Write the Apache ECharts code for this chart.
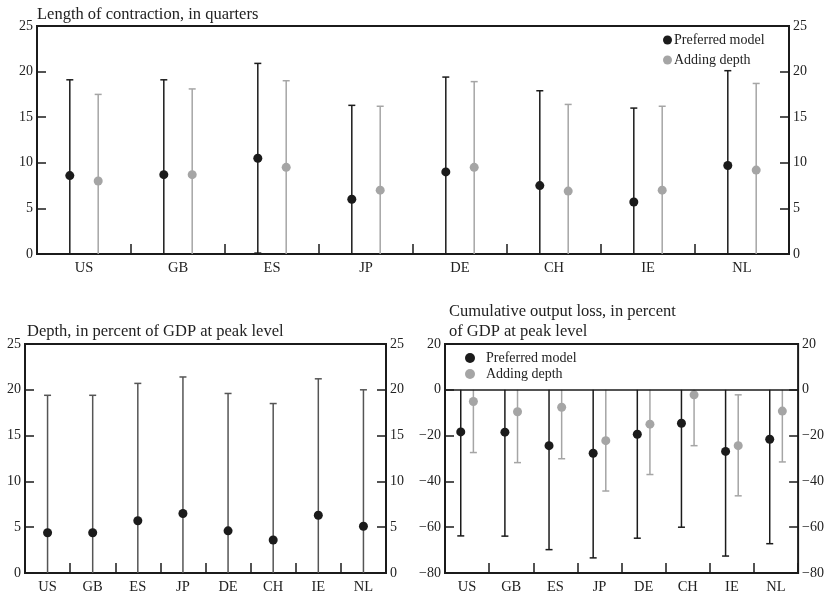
<!DOCTYPE html>
<html><head><meta charset="utf-8">
<script src="https://cdn.jsdelivr.net/npm/echarts@6/dist/echarts.min.js"></script>
<style>html,body{margin:0;padding:0;background:#fff}#c{width:827px;height:598px}</style>
</head><body><div id="c"></div>
<script>
const countries = ['US','GB','ES','JP','DE','CH','IE','NL'];
// Length of contraction (quarters)
const lenPrefVal  = [8.6, 8.7, 10.5, 6.0, 9.0, 7.5, 5.7, 9.7];
const lenPrefLow  = [0, 0, 0.1, 0, 0, 0, 0, 0];
const lenPrefHigh = [19.1, 19.1, 20.9, 16.3, 19.4, 17.9, 16.0, 20.1];
const lenDepVal   = [8.0, 8.7, 9.5, 7.0, 9.5, 6.9, 7.0, 9.2];
const lenDepLow   = [0, 0, 0, 0, 0, 0, 0, 0];
const lenDepHigh  = [17.5, 18.1, 19.0, 16.2, 18.9, 16.4, 16.2, 18.7];
// Depth (% of GDP at peak)
const depthVal  = [4.4, 4.4, 5.7, 6.5, 4.6, 3.6, 6.3, 5.1];
const depthLow  = [0, 0, 0, 0, 0, 0, 0, 0];
const depthHigh = [19.4, 19.4, 20.7, 21.4, 19.6, 18.5, 21.2, 20.0];
// Cumulative output loss
const lossPrefVal  = [-18.4, -18.5, -24.4, -27.7, -19.4, -14.6, -26.9, -21.6];
const lossPrefLow  = [-63.8, -63.9, -69.8, -73.4, -64.8, -60.0, -72.6, -67.2];
const lossPrefHigh = [0, 0, 0, 0, 0, 0, 0, 0];
const lossDepVal   = [-5.1, -9.6, -7.6, -22.2, -15.0, -2.2, -24.4, -9.3];
const lossDepLow   = [-27.4, -31.8, -30.1, -44.2, -37.0, -24.4, -46.3, -31.5];
const lossDepHigh  = [0, 0, 0, 0, 0, 0, -2.2, 0];

const lenTicks = {min: 0, max: 25, interval: 5};
const lossTicks = {min: -80, max: 20, interval: 20};

const BLACK = '#1b1b1b', GRAY = '#a5a5a5', DGRAY = '#555555';
const FONT = '"Liberation Serif", "DejaVu Serif", serif';

function build(v, lo, hi) { return v.map((x, i) => [i, x, lo[i], hi[i]]); }

function errSeries(name, data, gi, dotColor, lineColor, offFrac, z) {
  return {
    name: name, type: 'custom', xAxisIndex: gi, yAxisIndex: gi * 2,
    itemStyle: {color: dotColor}, z: z || 3,
    data: data,
    renderItem: function (params, api) {
      const i = api.value(0);
      const band = api.size([1, 0])[0];
      const dx = band * offFrac;
      const p = api.coord([i, api.value(1)]);
      const pl = api.coord([i, api.value(2)]);
      const ph = api.coord([i, api.value(3)]);
      const x = p[0] + dx;
      const cap = 3.5;
      const ch = [
        {type: 'line', shape: {x1: x, y1: pl[1], x2: x, y2: ph[1]}, style: {stroke: lineColor, lineWidth: 1.5}}
      ];
      if (api.value(2) !== 0) ch.push({type: 'line', shape: {x1: x - cap, y1: pl[1], x2: x + cap, y2: pl[1]}, style: {stroke: lineColor, lineWidth: 1.5}});
      if (api.value(3) !== 0) ch.push({type: 'line', shape: {x1: x - cap, y1: ph[1], x2: x + cap, y2: ph[1]}, style: {stroke: lineColor, lineWidth: 1.5}});
      ch.push({type: 'circle', shape: {cx: x, cy: p[1], r: 4.5}, style: {fill: dotColor}});
      return {type: 'group', children: ch};
    }
  };
}

function xAx(gi) {
  return {
    type: 'category', gridIndex: gi, data: countries, boundaryGap: true,
    axisLine: {show: false, onZero: false},
    axisTick: {show: true, inside: true, length: 10, lineStyle: {color: BLACK, width: 1.5}},
    axisLabel: {color: '#222', fontFamily: FONT, fontSize: 14.5, margin: 7},
    splitLine: {show: false}
  };
}
function yAx(gi, pos, t, fmt) {
  return {
    type: 'value', gridIndex: gi, position: pos, min: t.min, max: t.max, interval: t.interval,
    axisLine: {show: false, onZero: false},
    axisTick: {show: true, inside: true, length: 9, lineStyle: {color: BLACK, width: 1.5}},
    axisLabel: {color: '#222', fontFamily: FONT, fontSize: 14, margin: 4, formatter: fmt},
    splitLine: {show: false}
  };
}
const minusFmt = v => String(v).replace('-', '\u2212');

const gridBase = {show: true, borderColor: BLACK, borderWidth: 2, backgroundColor: 'transparent'};
const titleStyle = {fontFamily: FONT, fontWeight: 'normal', fontSize: 16.5, color: '#222'};

const chart = echarts.init(document.getElementById('c'), null, {renderer: 'canvas'});
chart.setOption({
  animation: false,
  backgroundColor: '#fff',
  textStyle: {fontFamily: FONT},
  title: [
    {text: 'Length of contraction, in quarters', left: 32, top: 1, textStyle: titleStyle},
    {text: 'Depth, in percent of GDP at peak level', left: 22, top: 318, textStyle: titleStyle},
    {text: 'Cumulative output loss, in percent\nof GDP at peak level', left: 444, top: 297, textStyle: Object.assign({lineHeight: 20}, titleStyle)}
  ],
  legend: [
    {data: ['Preferred model', 'Adding depth'], orient: 'vertical', left: 658, top: 28, icon: 'circle',
     itemWidth: 9, itemHeight: 9, itemGap: 6, textStyle: {fontFamily: FONT, fontSize: 14, color: '#222', padding: [0, 0, 0, -3]},
     selectedMode: false},
    {data: ['Preferred model ', 'Adding depth '], orient: 'vertical', left: 460, top: 346, icon: 'circle',
     itemWidth: 10, itemHeight: 10, itemGap: 2, textStyle: {fontFamily: FONT, fontSize: 14, color: '#222', padding: [0, 0, 0, 6]},
     selectedMode: false}
  ],
  grid: [
    Object.assign({left: 37, top: 26, width: 752, height: 228}, gridBase),
    Object.assign({left: 25, top: 344, width: 361, height: 229}, gridBase),
    Object.assign({left: 445, top: 344, width: 354, height: 229}, gridBase)
  ],
  xAxis: [xAx(0), xAx(1), xAx(2)],
  yAxis: [
    yAx(0, 'left', lenTicks), yAx(0, 'right', lenTicks),
    yAx(1, 'left', lenTicks), yAx(1, 'right', lenTicks),
    yAx(2, 'left', lossTicks, minusFmt), yAx(2, 'right', lossTicks, minusFmt)
  ],
  series: [
    errSeries('Preferred model', build(lenPrefVal, lenPrefLow, lenPrefHigh), 0, BLACK, BLACK, -0.151),
    errSeries('Adding depth', build(lenDepVal, lenDepLow, lenDepHigh), 0, GRAY, GRAY, 0.151),
    errSeries('Depth', build(depthVal, depthLow, depthHigh), 1, BLACK, DGRAY, 0),
    Object.assign(errSeries('Preferred model ', build(lossPrefVal, lossPrefLow, lossPrefHigh), 2, BLACK, BLACK, -0.143, 4), {
      markLine: {silent: true, symbol: 'none', label: {show: false}, lineStyle: {color: BLACK, width: 1.5, type: 'solid'}, data: [{yAxis: 0}]}
    }),
    errSeries('Adding depth ', build(lossDepVal, lossDepLow, lossDepHigh), 2, GRAY, GRAY, 0.143)
  ]
});
</script></body></html>
